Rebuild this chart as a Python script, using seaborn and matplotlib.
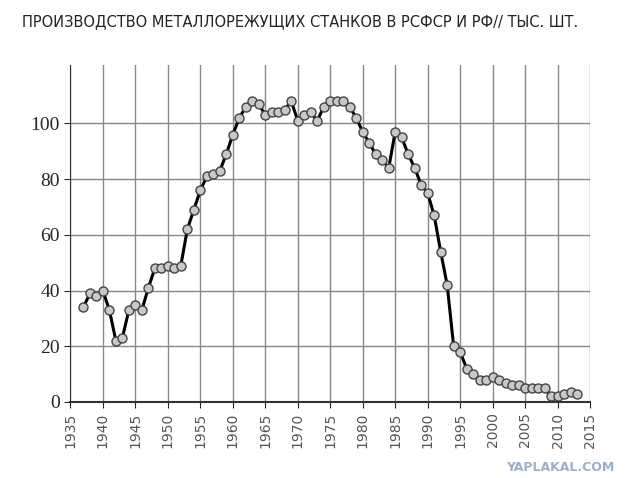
import matplotlib
matplotlib.use("Agg")
import matplotlib.pyplot as plt
import seaborn as sns
import pandas as pd

years = list(range(1937, 2014))
values = [34, 39, 38, 40, 33, 22, 23, 33, 35, 33, 41, 48, 48, 49, 48, 49, 62, 69, 76, 81,
          82, 83, 89, 96, 102, 106, 108, 107, 103, 104, 104, 105, 108, 101, 103, 104, 101, 106,
          108, 108, 108, 106, 102, 97, 93, 89, 87, 84, 97, 95, 89, 84, 78, 75, 67, 54, 42,
          20, 18, 12, 10, 8, 8, 9, 8, 7, 6, 6, 5, 5, 5, 5, 2, 2, 3, 3.6, 3]
xticks = list(range(1935, 2016, 5))
yticks = [0, 20, 40, 60, 80, 100]
title = "ПРОИЗВОДСТВО МЕТАЛЛОРЕЖУЩИХ СТАНКОВ В РСФСР И РФ// ТЫС. ШТ."

df = pd.DataFrame({"year": years, "value": values})
sns.set_style("white")
fig = plt.figure(figsize=(6.4, 4.78), dpi=100)
ax = fig.add_axes([0.11, 0.159, 0.812, 0.705])
sns.lineplot(data=df, x="year", y="value", ax=ax, color="black", lw=2.2,
             marker="o", markersize=6.5, markerfacecolor="#c8c8c8",
             markeredgecolor="#444444", markeredgewidth=1)
ax.set_xlim(1935, 2015)
ax.set_ylim(0, 121)
ax.set_xticks(xticks)
ax.set_yticks(yticks)
ax.grid(True, color="#888888", lw=1)
for s in ["top", "right"]:
    ax.spines[s].set_visible(False)
ax.spines["left"].set_color("#333333")
ax.spines["bottom"].set_color("#333333")
ax.spines["bottom"].set_linewidth(1.5)
ax.tick_params(axis="x", rotation=90, labelsize=10, labelcolor="#555555", length=4, direction="out", bottom=True)
ax.tick_params(axis="y", length=4, left=True)
for t in ax.get_yticklabels():
    t.set_fontfamily("Liberation Serif")
    t.set_fontsize(14)
ax.set_xlabel("")
ax.set_ylabel("")
fig.text(0.035, 0.955, title, fontsize=10.5, color="#222222", family="Liberation Sans Narrow", va="center")
fig.text(0.96, 0.015, "YAPLAKAL.COM", fontsize=9, color="#9ab0c8", ha="right", weight="bold")
fig.savefig("out.png", dpi=100)
